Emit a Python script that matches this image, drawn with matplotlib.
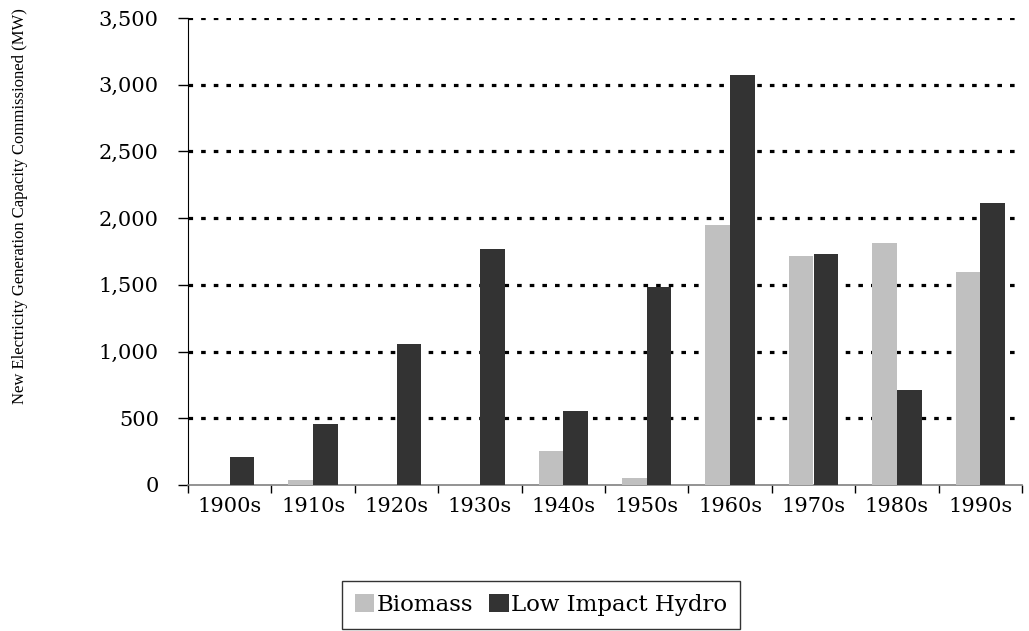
import numpy as np
import matplotlib.pyplot as plt

plt.rcParams['font.family'] = ['DejaVu Serif']
plt.rcParams['lines.scale_dashes'] = False

# Data (MW)
decades = ['1900s', '1910s', '1920s', '1930s', '1940s',
           '1950s', '1960s', '1970s', '1980s', '1990s']
biomass = [0, 35, 0, 0, 255, 50, 1945, 1720, 1815, 1600]
hydro = [210, 455, 1060, 1770, 555, 1485, 3075, 1735, 712, 2115]
yticks = [0, 500, 1000, 1500, 2000, 2500, 3000, 3500]

fig = plt.figure(figsize=(10.29, 6.31), dpi=100)
ax = fig.add_axes([188 / 1029, 1 - 485 / 631, 834 / 1029, 467 / 631])

x = np.arange(len(decades))
w = 0.295
ax.bar(x - w / 2, biomass, w, color='#c0c0c0', label='Biomass', zorder=3)
ax.bar(x + w / 2, hydro, w, color='#333333', label='Low Impact Hydro', zorder=3)

# dotted gridlines (skip the zero line)
for t in yticks[1:]:
    ax.axhline(t, color='black', lw=2.3, linestyle=(0, (3.3, 5.8)), zorder=1)

ax.set_xlim(-0.5, len(decades) - 0.5)
ax.set_ylim(0, 3500)
ax.set_yticks(yticks)
ax.set_yticklabels([f'{t:,}' for t in yticks])
ax.set_xticks(x)
ax.set_xticklabels(decades)
ax.set_xticks(np.arange(-0.5, len(decades)), minor=True)
ax.tick_params(axis='x', which='major', length=0, pad=9, labelsize=15)
ax.tick_params(axis='x', which='minor', length=6, width=1, color='black')
ax.tick_params(axis='y', length=7, width=1, pad=14, labelsize=15)

for s in ['top', 'right']:
    ax.spines[s].set_visible(False)
ax.spines['bottom'].set_color('#808080')
ax.spines['bottom'].set_linewidth(1.2)
ax.spines['left'].set_color('black')

fig.text(20 / 1029, 1 - 206 / 631,
         'New Electricity Generation Capacity Commissioned (MW)',
         rotation=90, ha='center', va='center', fontsize=12,
         family='Liberation Serif')

leg = fig.legend(loc='center', bbox_to_anchor=(541 / 1029, 1 - 605 / 631),
                 ncol=2, fontsize=16.5, frameon=True, fancybox=False,
                 handlelength=0.85, handleheight=0.85, handletextpad=0.1,
                 columnspacing=0.7, borderpad=0.55, borderaxespad=0)
leg.get_frame().set_edgecolor('black')
leg.get_frame().set_linewidth(1)

fig.savefig('out.png', dpi=100)
